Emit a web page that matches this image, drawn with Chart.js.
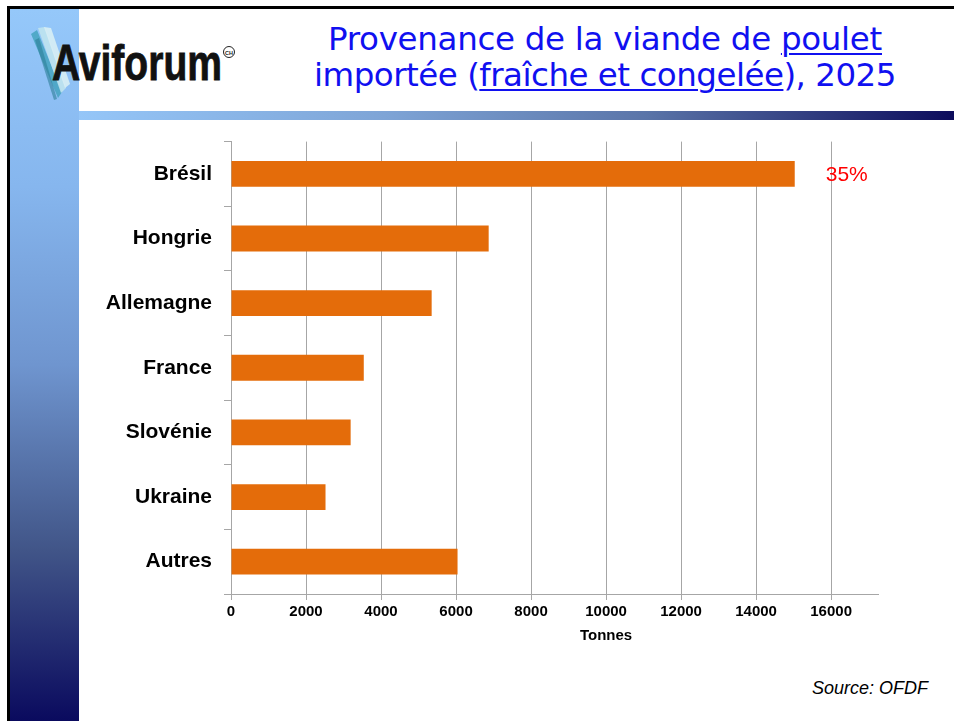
<!DOCTYPE html>
<html lang="fr">
<head>
<meta charset="utf-8">
<title>Provenance de la viande de poulet importée</title>
<script src="https://cdn.jsdelivr.net/npm/chart.js@4"></script>
<style>
  html, body { margin: 0; padding: 0; background: #fff; }
  #page { position: relative; width: 954px; height: 721px; overflow: hidden; background: #fff; }
  .frameTop { position: absolute; left: 7px; top: 6px; width: 947px; height: 3px; background: #000; }
  .frameLeft { position: absolute; left: 7px; top: 6px; width: 3px; height: 715px; background: #000; }
  .strip { position: absolute; left: 10px; top: 9px; width: 69px; height: 712px;
    background: linear-gradient(to bottom, #95c8fa 0%, #86b6ee 25%, #6f95cf 50%, #415588 76%, #0a0a5e 100%); }
  .hbar { position: absolute; left: 79px; top: 111px; width: 875px; height: 9px;
    background: linear-gradient(to right, #95c6f8 0%, #7ea4d6 35%, #5a74a8 65%, #0c0c5c 100%); }
  .logo { position: absolute; left: 0; top: 0; }
  .title { position: absolute; left: 280px; width: 650px; text-align: center; color: #1010f0;
    font-family: "DejaVu Sans", sans-serif; font-size: 32.5px; white-space: nowrap; letter-spacing: -0.3px; }
  .title u { text-decoration-thickness: 2px; text-underline-offset: 3px; }
  .source { position: absolute; right: 26px; top: 678px; font-family: "Liberation Sans", Arial, sans-serif;
    font-style: italic; font-size: 18px; color: #000; }
  #wrap { position: absolute; left: 80px; top: 117px; width: 874px; height: 540px; }
</style>
</head>
<body>
<div id="page">
  <div class="strip"></div>
  <div class="frameTop"></div>
  <div class="frameLeft"></div>
  <div class="hbar"></div>

  <svg class="logo" width="260" height="110" viewBox="0 0 260 110">
    <polygon points="31,34 37,30 62,92 58,98" fill="#3b9fb8" opacity="0.75"/>
    <polygon points="38,28 45,27 66,88 61,93" fill="#bfe3ee" opacity="0.9"/>
    <polygon points="44,27 51,28 70,84 65,88" fill="#d8eef4" opacity="0.9"/>
    <polygon points="35,40 39,38 57,99 54,100" fill="#2d7f98" opacity="0.6"/>
    <text x="52" y="80" font-family="Liberation Sans, Arial, sans-serif" font-weight="bold" font-size="50"
      textLength="170" lengthAdjust="spacingAndGlyphs" fill="#111" stroke="#111" stroke-width="0.8">Aviforum</text>
    <circle cx="229" cy="52" r="5.5" fill="none" stroke="#222" stroke-width="1"/>
    <text x="229" y="54.5" font-family="Liberation Sans, Arial, sans-serif" font-size="5.5" font-weight="bold"
      text-anchor="middle" fill="#222">CH</text>
  </svg>

  <div class="title" style="top: 20px;">Provenance de la viande de <u>poulet</u></div>
  <div class="title" style="top: 56px; letter-spacing: -0.5px;">importée (<u>fraîche et congelée</u>), 2025</div>

  <div id="wrap"><canvas id="barChart" width="874" height="540"></canvas></div>

  <div class="source">Source: OFDF</div>
</div>

<script>
const countries = ["Brésil", "Hongrie", "Allemagne", "France", "Slovénie", "Ukraine", "Autres"];
const tonnes = [15030, 6870, 5350, 3540, 3190, 2520, 6040];
const shareLabels = ["35%", "", "", "", "", "", ""];
const xTicks = [0, 2000, 4000, 6000, 8000, 10000, 12000, 14000, 16000];
const axisTitle = "Tonnes";

const ctx = document.getElementById("barChart").getContext("2d");

// red share label to the right of the bar, and the axis title under the ticks
const annotations = {
    id: "annotations",
    afterDatasetsDraw(chart) {
        const c = chart.ctx;
        const bars = chart.getDatasetMeta(0).data;
        c.save();
        c.fillStyle = "#ff0000";
        c.font = "21px 'Liberation Sans', Arial, sans-serif";
        c.textAlign = "left";
        c.textBaseline = "middle";
        shareLabels.forEach((txt, i) => {
            if (txt) c.fillText(txt, bars[i].x + 31, bars[i].y + 1);
        });
        const x = chart.scales.x;
        c.fillStyle = "#000";
        c.font = "bold 15px 'Liberation Sans', Arial, sans-serif";
        c.textAlign = "center";
        c.fillText(axisTitle, x.getPixelForValue(10000), x.top + 42);
        c.restore();
    }
};

new Chart(ctx, {
    type: "bar",
    data: {
        labels: countries,
        datasets: [{
            label: axisTitle,
            data: tonnes,
            backgroundColor: "#e46c0a",
            borderWidth: 0,
            barPercentage: 0.8,
            categoryPercentage: 0.5
        }]
    },
    options: {
        indexAxis: "y",
        responsive: false,
        animation: false,
        devicePixelRatio: 1,
        layout: { padding: { top: 9, right: 76, bottom: 13, left: 0 } },
        plugins: {
            legend: { display: false },
            tooltip: { enabled: false }
        },
        scales: {
            x: {
                min: 0,
                max: 17250,
                afterBuildTicks: (scale) => { scale.ticks = xTicks.map(v => ({ value: v })); },
                afterFit: (scale) => { scale.height = 50; },
                ticks: {
                    padding: 3,
                    color: "#000",
                    callback: (v) => String(v),
                    font: { family: "'Liberation Sans', Arial, sans-serif", size: 15, weight: "bold" }
                },
                grid: { color: "#a6a6a6", tickLength: 6 },
                border: { color: "#a6a6a6" }
            },
            y: {
                afterFit: (scale) => { scale.width = 151; },
                ticks: {
                    padding: 12,
                    color: "#000",
                    font: { family: "'Liberation Sans', Arial, sans-serif", size: 21, weight: "bold" }
                },
                grid: { offset: true, drawOnChartArea: false, tickLength: 7, color: "#a6a6a6" },
                border: { color: "#a6a6a6" }
            }
        }
    },
    plugins: [annotations]
});
</script>
</body>
</html>
